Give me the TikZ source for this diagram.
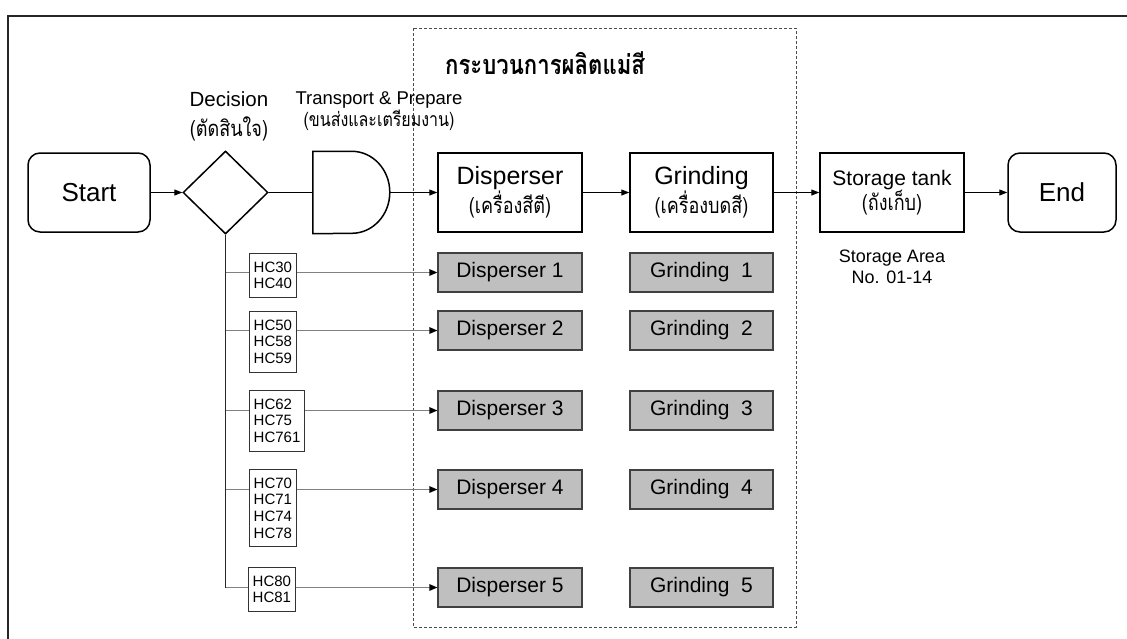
\documentclass[tikz,border=0pt]{standalone}
\usepackage{fontspec}
\setmainfont{Liberation Sans}
\newfontfamily\thai[Script=Thai,FakeStretch=0.82]{Loma}
\usetikzlibrary{shapes.geometric,arrows.meta}

\tikzset{
  mainbox/.style={draw=black,line width=1.5pt,minimum width=144pt,minimum height=79pt,align=center,inner sep=0pt},
  roundbox/.style={mainbox,rounded corners=12pt,minimum width=122pt},
  unitbox/.style={draw=black!75,fill=black!25,line width=1.2pt,minimum width=144pt,minimum height=39pt,inner sep=0pt,font=\fontsize{21}{21}\selectfont},
  codebox/.style={draw=black!80,line width=1pt,align=left,inner xsep=4.2pt,inner ysep=8.2pt,anchor=north west,font=\fontsize{15}{16.8}\selectfont},
  flow/.style={draw=black,line width=1pt,-{Triangle[length=8pt,width=6pt]}},
  plain/.style={draw=black,line width=1pt},
  branch/.style={draw=black!50,line width=1.3pt},
  feed/.style={branch,-{Triangle[length=8pt,width=6.5pt,color=black]}},
  caption/.style={align=center,inner sep=0pt}
}

\begin{document}
\begin{tikzpicture}[x=1pt,y=-1pt]
\useasboundingbox (0,0) rectangle (1127,638);

% page frame
\draw[line width=2pt,black!85] (8,640) -- (8,16) -- (1129,16);

% production area
\draw[black!70,line width=1pt,dash pattern=on 3pt off 2pt] (413,28) rectangle (796,627);
\node[caption,font=\thai\bfseries\fontsize{27}{27}\selectfont] (title) at (545,63) {กระบวนการผลิตแม่สี};

% main flow
\node[roundbox,font=\fontsize{26}{26}\selectfont] (start) at (89,192.5) {Start};
\node[draw=black,line width=1.5pt,diamond,minimum width=85pt,minimum height=83pt,inner sep=0pt] (dec) at (225.5,192.5) {};
\node[minimum width=77pt,minimum height=82pt,inner sep=0pt] (prep) at (351.5,192.5) {};
\draw[line width=1.5pt] (prep.north west) -- ++(39,0)
  arc[start angle=-90,end angle=90,x radius=38,y radius=41] -- (prep.south west) -- cycle;
\node[mainbox,font=\fontsize{22}{25}\selectfont] (disp) at (510,192.5)
  {{\fontsize{25}{25}\selectfont Disperser}\\{\thai (เครื่องสีตี)}};
\node[mainbox,minimum width=143pt,font=\fontsize{22}{25}\selectfont] (grind) at (701.5,192.5)
  {{\fontsize{25}{25}\selectfont Grinding}\\{\thai (เครื่องบดสี)}};
\node[mainbox,font=\fontsize{22}{25}\selectfont] (tank) at (892,192.5)
  {{\fontsize{21}{21}\selectfont Storage tank}\\{\thai (ถังเก็บ)}};
\node[roundbox,minimum width=108pt,font=\fontsize{26}{26}\selectfont] (end) at (1062,192.5) {End};

% captions
\node[caption,font=\fontsize{22}{30}\selectfont] (declbl) at (229,116)
  {{\fontsize{20.5}{20.5}\selectfont Decision}\\{\thai (ตัดสินใจ)}};
\node[caption,font=\fontsize{19.5}{20}\selectfont] (preplbl) at (379,111)
  {{\fontsize{18.5}{18.5}\selectfont Transport \& Prepare}\\{\thai (ขนส่งและเตรียมงาน)}};
\node[caption,font=\fontsize{18}{21}\selectfont] (arealbl) at (892,267) {Storage Area\\No. 01-14};

\draw[flow] (start) -- (dec);
\draw[plain] (dec) -- (prep.west);
\draw[flow] (prep.east) -- (disp);
\draw[flow] (disp) -- (grind);
\draw[flow] (grind) -- (tank);
\draw[flow] (tank) -- (end);

% machine lines
\foreach \i/\y in {1/253,2/311,3/391,4/470,5/568}{
  \node[unitbox] (d\i) at (510,\y+19.5) {Disperser \i};
  \node[unitbox,minimum width=143pt] (g\i) at (701.5,\y+19.5) {Grinding\ \ \i};
}

% product codes
\node[codebox] (hc1) at (249,253) {HC30\\HC40};
\node[codebox] (hc2) at (249,311) {HC50\\HC58\\HC59};
\node[codebox] (hc3) at (249,390) {HC62\\HC75\\HC761};
\node[codebox] (hc4) at (249,469) {HC70\\HC71\\HC74\\HC78};
\node[codebox] (hc5) at (248,567) {HC80\\HC81};

\draw[line width=1.3pt,black!85] (dec.south) -- (dec.south |- d5.west);
\foreach \i in {1,...,5}{
  \draw[branch] (dec.south |- d\i.west) -- (hc\i.west |- d\i.west);
  \draw[feed] (hc\i.east |- d\i.west) -- (d\i.west);
}
\end{tikzpicture}
\end{document}
